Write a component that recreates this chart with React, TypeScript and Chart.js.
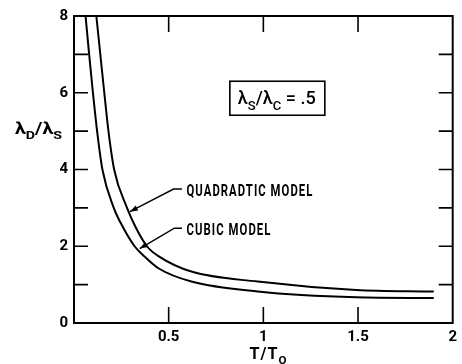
import React, { useEffect, useRef } from "react";
import { Chart, registerables } from "chart.js";

Chart.register(...registerables);

// Data
const cubicX = [0.061, 0.08, 0.1, 0.122, 0.15, 0.21, 0.258, 0.32, 0.373, 0.448, 0.62, 0.97, 1.49, 1.9];
const cubicY = [8, 7, 6, 5, 4, 3, 2.5, 2, 1.73, 1.42, 1.08, 0.82, 0.67, 0.65];
const quadX = [0.118, 0.139, 0.16, 0.182, 0.212, 0.28, 0.325, 0.385, 0.45, 0.62, 0.97, 1.49, 1.9];
const quadY = [8, 7, 6, 5, 4, 3, 2.5, 2, 1.73, 1.34, 1.08, 0.86, 0.82];
const xTickValues = [0.5, 1, 1.5];
const yTickValues = [1, 2, 3, 4, 5, 6, 7];
const quadLabel = "QUADRADTIC MODEL";
const cubicLabel = "CUBIC MODEL";

const BOLD = 'Roboto, "DejaVu Sans", sans-serif';

type Part = { t: string; sub?: boolean };

// draws rich text (with subscripts), squeezed horizontally to a target width
function drawRich(ctx: CanvasRenderingContext2D, parts: Part[], x: number, y: number, size: number, weight: string, family: string, targetW?: number, spacing = 0) {
  let w = 0;
  for (const p of parts) {
    ctx.font = `${weight} ${p.sub ? size * 0.72 : size}px ${family}`;
    (ctx as any).letterSpacing = `${spacing}px`;
    w += ctx.measureText(p.t).width;
  }
  const k = targetW ? targetW / w : 1;
  ctx.save();
  ctx.translate(x, y);
  ctx.scale(k, 1);
  let cx = 0;
  for (const p of parts) {
    ctx.font = `${weight} ${p.sub ? size * 0.72 : size}px ${family}`;
    (ctx as any).letterSpacing = `${spacing}px`;
    ctx.fillText(p.t, cx, p.sub ? size * 0.32 : 0);
    cx += ctx.measureText(p.t).width;
  }
  ctx.restore();
  (ctx as any).letterSpacing = "0px";
}

function arrowHead(ctx: CanvasRenderingContext2D, x1: number, y1: number, x2: number, y2: number) {
  const a = Math.atan2(y2 - y1, x2 - x1);
  const L = 8, W = 2.8;
  ctx.beginPath();
  ctx.moveTo(x2, y2);
  ctx.lineTo(x2 - L * Math.cos(a) + W * Math.sin(a), y2 - L * Math.sin(a) - W * Math.cos(a));
  ctx.lineTo(x2 - L * Math.cos(a) - W * Math.sin(a), y2 - L * Math.sin(a) + W * Math.cos(a));
  ctx.closePath();
  ctx.fill();
}

const decor = {
  id: "decor",
  afterDraw(chart: any) {
    const { ctx, chartArea: ca, scales } = chart;
    const xs = scales.x, ys = scales.y;
    const X = (v: number) => xs.getPixelForValue(v);
    const Y = (v: number) => ys.getPixelForValue(v);
    ctx.save();
    ctx.strokeStyle = "#000";
    ctx.fillStyle = "#000";
    ctx.lineWidth = 2;
    ctx.strokeRect(ca.left, ca.top, ca.right - ca.left, ca.bottom - ca.top);
    ctx.lineWidth = 1.6;
    ctx.beginPath();
    for (const v of yTickValues) {
      ctx.moveTo(ca.left, Y(v)); ctx.lineTo(ca.left + 14, Y(v));
      ctx.moveTo(ca.right, Y(v)); ctx.lineTo(ca.right - 14, Y(v));
    }
    for (const v of xTickValues) {
      ctx.moveTo(X(v), ca.bottom); ctx.lineTo(X(v), ca.bottom - 16);
      ctx.moveTo(X(v), ca.top); ctx.lineTo(X(v), ca.top + 16);
    }
    ctx.stroke();

    // leaders
    ctx.lineWidth = 1.4;
    const qTip = [X(0.295), Y(2.9)], qElb = [X(0.526), Y(3.49)], qEnd = [X(0.57), Y(3.49)];
    const cTip = [X(0.347), Y(1.94)], cElb = [X(0.53), Y(2.47)], cEnd = [X(0.57), Y(2.47)];
    for (const [t, e, n] of [[qTip, qElb, qEnd], [cTip, cElb, cEnd]]) {
      ctx.beginPath();
      ctx.moveTo(n[0], n[1]); ctx.lineTo(e[0], e[1]); ctx.lineTo(t[0], t[1]);
      ctx.stroke();
      arrowHead(ctx, e[0], e[1], t[0], t[1]);
    }
    ctx.textBaseline = "alphabetic";
    drawRich(ctx, [{ t: quadLabel }], X(0.594), Y(3.46) + 6, 16, "bold", BOLD, 127, 1.5);
    drawRich(ctx, [{ t: cubicLabel }], X(0.594), Y(2.45) + 6, 16, "bold", BOLD, 85, 1.5);

    // ratio box
    const bx = X(0.823), by = Y(6.3), bw = 95, bh = 34;
    ctx.lineWidth = 1.6;
    ctx.strokeRect(bx, by, bw, bh);
    drawRich(ctx, [{ t: "λ" }, { t: "S", sub: true }, { t: "/λ" }, { t: "C", sub: true }, { t: " = .5" }], bx + 8, by + 23, 18, "500", 'Roboto, "Liberation Sans", sans-serif', 78);

    // axis titles
    drawRich(ctx, [{ t: "λ" }, { t: "D", sub: true }, { t: "/λ" }, { t: "S", sub: true }], 15, 134, 16, "bold", BOLD, 47);
    drawRich(ctx, [{ t: "T/T" }, { t: "O", sub: true }], X(0.927), 359, 16, "bold", BOLD, 38, 1);
    ctx.restore();
  },
};

export default function App() {
  const ref = useRef<HTMLCanvasElement>(null);
  useEffect(() => {
    document.body.style.margin = "0";
    const toPts = (xs: number[], ys: number[]) => xs.map((x, i) => ({ x, y: ys[i] }));
    const chart = new Chart(ref.current!, {
      type: "line",
      data: {
        datasets: [
          { label: "Quadratic model", data: toPts(quadX, quadY), borderColor: "#000", borderWidth: 2, pointRadius: 0, cubicInterpolationMode: "monotone", fill: false },
          { label: "Cubic model", data: toPts(cubicX, cubicY), borderColor: "#000", borderWidth: 2, pointRadius: 0, cubicInterpolationMode: "monotone", fill: false },
        ],
      },
      options: {
        animation: false,
        responsive: true,
        maintainAspectRatio: false,
        layout: { padding: { left: 0, right: 6, top: 16, bottom: 0 } },
        plugins: { legend: { display: false }, tooltip: { enabled: false } },
        scales: {
          x: {
            type: "linear", min: 0, max: 2,
            grid: { display: false, drawTicks: false }, border: { display: false },
            ticks: {
              stepSize: 0.5, color: "#000", padding: 5,
              font: { family: BOLD, size: 15, weight: "bold" },
              callback: (v: any) => (v === 0 ? "" : String(v)),
              maxRotation: 0,
            },
            afterFit: (s: any) => { s.height = 41; },
          },
          y: {
            type: "linear", min: 0, max: 8,
            grid: { display: false, drawTicks: false }, border: { display: false },
            ticks: {
              stepSize: 1, color: "#000", padding: 6,
              font: { family: BOLD, size: 15, weight: "bold" },
              callback: (v: any) => (v % 2 === 0 ? String(v) : ""),
            },
            afterFit: (s: any) => { s.width = 74; },
          },
        },
      },
      plugins: [decor],
    } as any);
    return () => chart.destroy();
  }, []);
  return (
    <div style={{ position: "relative", width: 462, height: 364, background: "#fff" }}>
      <canvas ref={ref} />
    </div>
  );
}
